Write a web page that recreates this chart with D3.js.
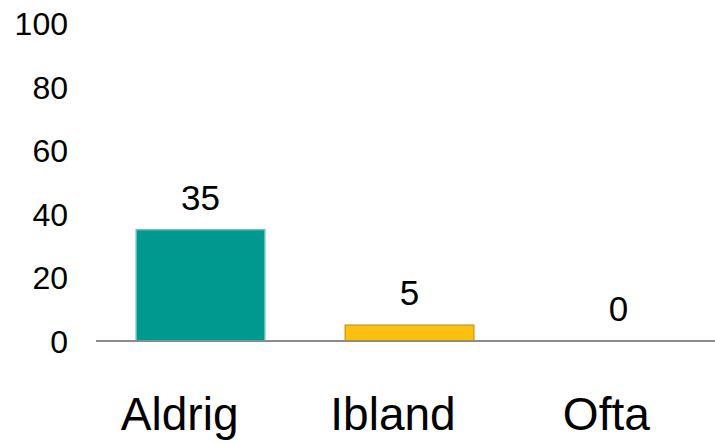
<!DOCTYPE html>
<html><head><meta charset="utf-8">
<script src="https://cdn.jsdelivr.net/npm/d3@7"></script>
<style>body{margin:0;background:#fff}svg{display:block}text{font-family:"Liberation Sans",Arial,sans-serif;fill:#000}</style>
</head><body><svg id="c" width="715" height="444"></svg>
<script>
const categories = ["Aldrig", "Ibland", "Ofta"];
const values = [35, 5, 0];
const yTicks = [0, 20, 40, 60, 80, 100];
const fills = ["#009990", "#FDC00F", "#FDC00F"];
const strokes = ["#5cc4be", "#D4A017", "#D4A017"];

const svg = d3.select("#c");
const y = d3.scaleLinear().domain([0, 100]).range([341, 23]);
const x = d3.scaleBand().domain(categories).range([96, 723]).paddingInner(0.38).paddingOuter(0.19);
const xl = d3.scaleBand().domain(categories).range([73, 713]);

// y axis labels
const ya = svg.append("g").attr("transform", "translate(68,0)")
  .call(d3.axisLeft(y).tickValues(yTicks).tickSize(0).tickPadding(0));
ya.select(".domain").remove();
ya.selectAll("text").attr("font-size", 32).attr("dy", "0.36em")
  .attr("font-family", "Liberation Sans, Arial, sans-serif").attr("fill", "#000");

// bars
svg.selectAll("rect.bar").data(values).join("rect").attr("class", "bar")
  .attr("x", (d, i) => x(categories[i]) + 0.5)
  .attr("y", d => y(d))
  .attr("width", x.bandwidth() - 1)
  .attr("height", d => y(0) - y(d))
  .attr("fill", (d, i) => fills[i])
  .attr("stroke", (d, i) => strokes[i])
  .attr("stroke-width", 1.5);

// baseline
svg.append("line").attr("x1", 96).attr("x2", 715).attr("y1", y(0)).attr("y2", y(0))
  .attr("stroke", "#8c8c8c").attr("stroke-width", 2);

// value labels
svg.selectAll("text.val").data(values).join("text").attr("class", "val")
  .attr("x", (d, i) => x(categories[i]) + x.bandwidth() / 2)
  .attr("y", d => y(d) - 20)
  .attr("text-anchor", "middle").attr("font-size", 35)
  .text(d => d);

// category labels
const xa = svg.append("g").attr("transform", "translate(0,397)")
  .call(d3.axisBottom(xl).tickSize(0).tickPadding(0));
xa.select(".domain").remove();
xa.selectAll("text").attr("font-size", 46).attr("dy", "0.72em")
  .attr("font-family", "Liberation Sans, Arial, sans-serif").attr("fill", "#000");
</script></body></html>
